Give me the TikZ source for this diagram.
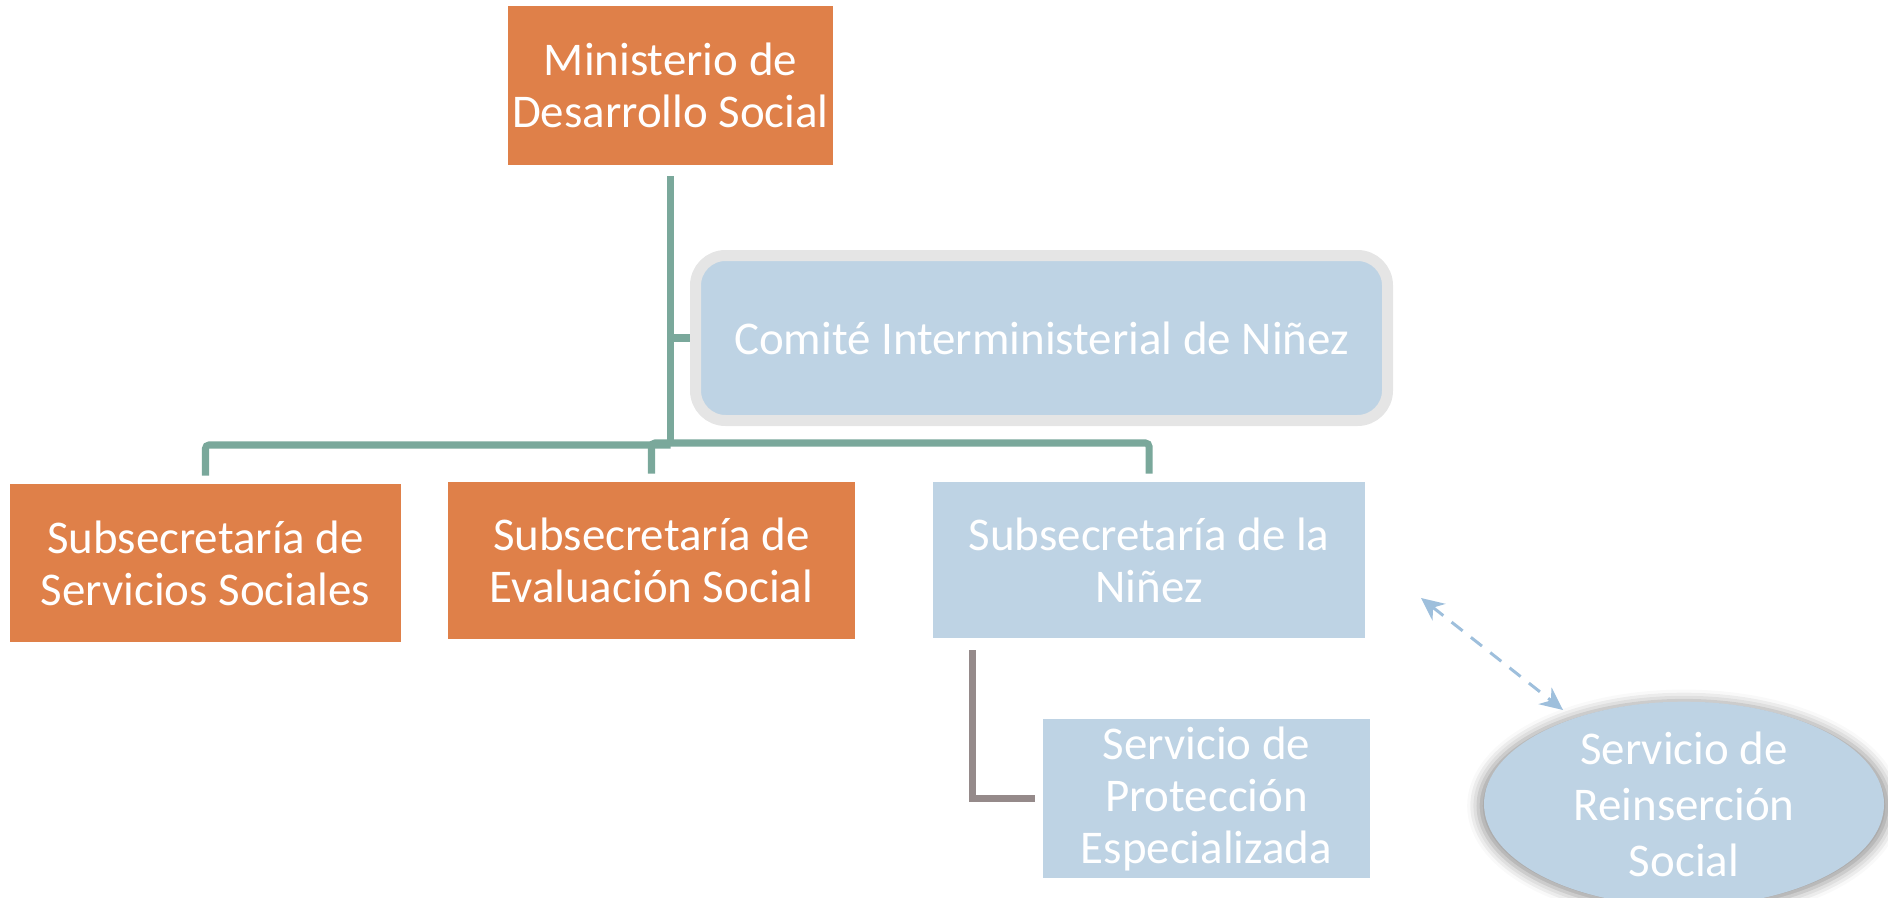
\documentclass[tikz,border=0pt]{standalone}
\usepackage{fontspec}
\setmainfont{Carlito}
\usetikzlibrary{calc,arrows.meta,shapes.geometric,shadows.blur}
\definecolor{naranja}{HTML}{DF8049}
\definecolor{celeste}{HTML}{BED3E4}
\definecolor{verde}{HTML}{7AA89B}
\definecolor{borde}{HTML}{E5E5E5}
\definecolor{pardo}{HTML}{958A8A}
\definecolor{flecha}{HTML}{9EBFDC}
\begin{document}
\begin{tikzpicture}[
  caja/.style={rectangle,text=white,align=center,inner sep=0pt,
    font=\fontsize{26.7}{29.6}\selectfont},
  naranjo/.style={caja,fill=naranja},
  azul/.style={caja,fill=celeste},
  rama/.style={verde,line width=4pt,rounded corners=2pt},
  ramagris/.style={pardo,line width=3.6pt},
  enlace/.style={flecha,line width=1.7pt,dashed,dash pattern=on 8pt off 6pt,
    {Stealth[length=13pt,width=12pt]}-{Stealth[length=13pt,width=12pt]}}
]
\useasboundingbox (0,0) rectangle (37.76,17.94);
%\draw[step=1cm,gray,very thin] (0,0) grid (37.76,17.94);

\node[naranjo,minimum width=6.5cm,minimum height=3.18cm] (min) at (13.41,16.23)
  {Ministerio de\\Desarrollo Social};
\node[azul,draw=borde,line width=0.22cm,rounded corners=0.6cm,
  minimum width=13.84cm,minimum height=3.3cm] (comite) at (20.83,11.18)
  {Comité Interministerial de Niñez};

\node[naranjo,minimum width=7.82cm,minimum height=3.16cm] (sss) at (4.11,6.68)
  {Subsecretaría de\\Servicios Sociales};
\node[naranjo,minimum width=8.14cm,minimum height=3.14cm] (ses) at (13.03,6.73)
  {Subsecretaría de\\Evaluación Social};
\node[azul,minimum width=8.64cm,minimum height=3.12cm] (snin) at (22.98,6.74)
  {Subsecretaría de la\\Niñez};
\node[azul,minimum width=6.54cm,minimum height=3.18cm] (prot) at (24.13,1.97)
  {Servicio de\\Protección\\Especializada};
\node[azul,ellipse,minimum width=8cm,minimum height=3.84cm,
  font=\fontsize{26.7}{31.8}\selectfont,
  blur shadow={shadow xshift=0pt,shadow yshift=-1pt,shadow scale=1.03,
    shadow blur radius=6pt,shadow opacity=40}] (srs) at (33.68,1.86)
  {Servicio de\\Reinserción\\Social};

\coordinate (bus) at (0,9.08);
\draw[rama] ($(min.south)+(0,-0.22)$) -- (min.south |- bus);
\draw[rama] (min.south |- comite.west) -- (comite.west);
\draw[rama] ($(sss.north)+(0,0.16)$) |- ($(min.south |- bus)+(0,-0.04)$);
\draw[rama] ($(ses.north)+(0,0.16)$) |- (snin.north |- bus) -- ($(snin.north)+(0,0.16)$);
\draw[ramagris] ($(snin.south west)+(0.8,-0.24)$) |- ($(prot.west)+(-0.16,0)$);

\coordinate (fa) at (28.42,5.98);
\coordinate (fb) at (31.26,3.74);
\draw[enlace] (fa) -- (fb);
\end{tikzpicture}
\end{document}
